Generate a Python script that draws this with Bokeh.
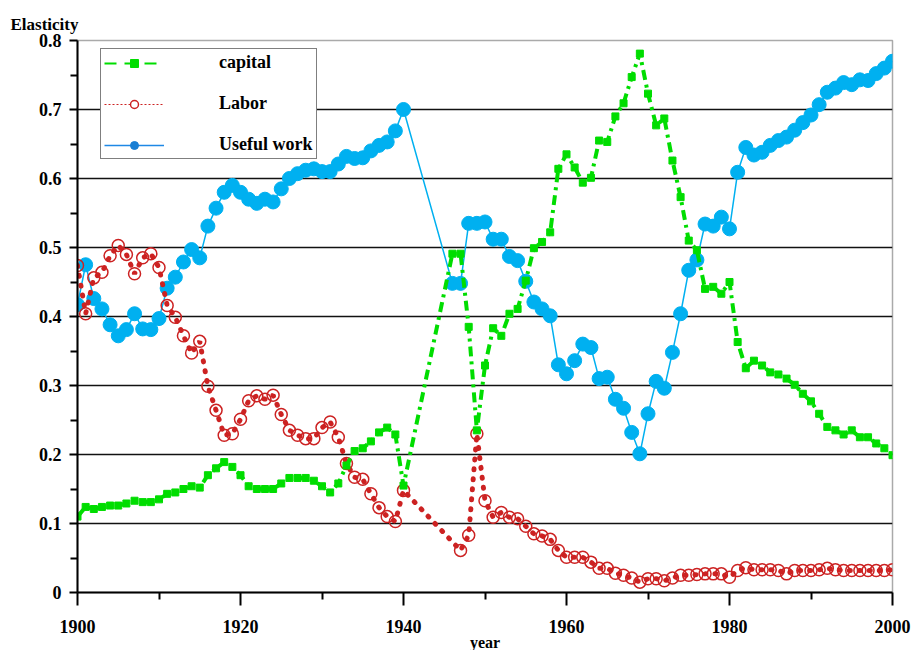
from bokeh.plotting import figure
from bokeh.models import Range1d, FixedTicker, Legend, LegendItem, Title
from bokeh.embed import file_html
from bokeh.resources import INLINE

# ---------------- data ----------------
years_main = list(range(1900, 1941)) + list(range(1946, 2001))
years_labor = list(range(1900, 1941)) + list(range(1947, 2001))

capital = [
    0.110, 0.124, 0.121, 0.124, 0.126, 0.126, 0.129, 0.133, 0.131, 0.131,
    0.135, 0.143, 0.145, 0.150, 0.154, 0.152, 0.170, 0.180, 0.189, 0.182,
    0.170, 0.154, 0.150, 0.150, 0.150, 0.158, 0.166, 0.166, 0.166, 0.162,
    0.154, 0.145, 0.158, 0.184, 0.205, 0.209, 0.219, 0.232, 0.239, 0.229,
    0.155,
    0.491, 0.491, 0.385, 0.235, 0.329, 0.383, 0.372, 0.404, 0.411, 0.452,
    0.499, 0.508, 0.522, 0.614, 0.635, 0.616, 0.594, 0.601, 0.655, 0.653,
    0.690, 0.709, 0.747, 0.781, 0.723, 0.677, 0.687, 0.626, 0.573, 0.510,
    0.496, 0.440, 0.443, 0.433, 0.450, 0.363, 0.325, 0.336, 0.329, 0.319,
    0.316, 0.310, 0.301, 0.288, 0.277, 0.259, 0.240, 0.235, 0.229, 0.235,
    0.225, 0.225, 0.216, 0.209, 0.199,
]

labor = [
    0.474, 0.404, 0.456, 0.464, 0.488, 0.503, 0.490, 0.462, 0.485, 0.491,
    0.471, 0.416, 0.399, 0.372, 0.347, 0.364, 0.299, 0.264, 0.228, 0.230,
    0.251, 0.278, 0.285, 0.280, 0.286, 0.258, 0.235, 0.228, 0.223, 0.223,
    0.239, 0.247, 0.225, 0.187, 0.167, 0.164, 0.143, 0.123, 0.110, 0.103,
    0.148,
    0.061, 0.083, 0.230, 0.133, 0.109, 0.116, 0.109, 0.107, 0.096, 0.085,
    0.082, 0.077, 0.061, 0.051, 0.051, 0.051, 0.044, 0.035, 0.035, 0.028,
    0.025, 0.021, 0.015, 0.020, 0.020, 0.017, 0.021, 0.025, 0.025, 0.026,
    0.027, 0.027, 0.027, 0.022, 0.032, 0.036, 0.033, 0.033, 0.033, 0.032,
    0.027, 0.032, 0.032, 0.032, 0.033, 0.035, 0.033, 0.032, 0.032, 0.032,
    0.032, 0.032, 0.032, 0.033,
]

useful_work = [
    0.417, 0.475, 0.426, 0.411, 0.388, 0.372, 0.381, 0.404, 0.382, 0.381,
    0.397, 0.441, 0.457, 0.479, 0.497, 0.485, 0.531, 0.557, 0.580, 0.590,
    0.580, 0.570, 0.564, 0.570, 0.566, 0.585, 0.600, 0.607, 0.612, 0.614,
    0.610, 0.610, 0.621, 0.632, 0.629, 0.630, 0.640, 0.648, 0.653, 0.669,
    0.700,
    0.448, 0.448, 0.535, 0.535, 0.537, 0.512, 0.512, 0.487, 0.481, 0.451,
    0.421, 0.411, 0.401, 0.330, 0.317, 0.336, 0.360, 0.355, 0.310, 0.312,
    0.280, 0.267, 0.232, 0.201, 0.259, 0.306, 0.296, 0.348, 0.404, 0.467,
    0.482, 0.534, 0.531, 0.544, 0.527, 0.609, 0.645, 0.634, 0.638, 0.648,
    0.655, 0.660, 0.670, 0.681, 0.692, 0.707, 0.725, 0.731, 0.739, 0.736,
    0.743, 0.742, 0.752, 0.760, 0.770,
]

x_ticks = [1900, 1920, 1940, 1960, 1980, 2000]
x_minor = [1910, 1930, 1950, 1970, 1990]
y_ticks = [0, 0.1, 0.2, 0.3, 0.4, 0.5, 0.6, 0.7, 0.8]
y_minor = [0.05, 0.15, 0.25, 0.35, 0.45, 0.55, 0.65, 0.75]

GREEN = "#00DD00"
RED = "#CC2222"
BLUE = "#00B0F0"
FONT = "Liberation Serif"

# ---------------- figure ----------------
p = figure(width=912, height=650, x_range=Range1d(1900, 2000), y_range=Range1d(0, 0.8),
           output_backend="svg", toolbar_location=None,
           min_border_left=77, min_border_right=20, min_border_top=40, min_border_bottom=58)
p.background_fill_color = "white"
p.border_fill_color = "white"
p.outline_line_color = "#aaaaaa"
p.outline_line_width = 1.5

p.xgrid.visible = False
p.ygrid.grid_line_color = "#111111"
p.ygrid.grid_line_width = 1.6

for ax in (p.xaxis[0], p.yaxis[0]):
    ax.axis_line_color = "black"
    ax.axis_line_width = 2
    ax.major_tick_line_color = "black"
    ax.major_tick_line_width = 2
    ax.minor_tick_line_color = "black"
    ax.minor_tick_line_width = 2
    ax.major_tick_in = 0
    ax.minor_tick_in = 0
    ax.major_label_text_font = FONT
    ax.major_label_text_font_style = "bold"
    ax.major_label_text_font_size = "18px"
    ax.major_label_text_color = "black"

p.xaxis.ticker = FixedTicker(ticks=x_ticks, minor_ticks=x_minor)
p.xaxis.major_tick_out = 13
p.xaxis.minor_tick_out = 7
p.xaxis.major_label_standoff = 14

p.yaxis.ticker = FixedTicker(ticks=y_ticks, minor_ticks=y_minor)
p.yaxis.major_tick_out = 8
p.yaxis.minor_tick_out = 7
p.yaxis.major_label_standoff = 8
p.yaxis.major_label_overrides = {0: "0"}

# ---------------- series ----------------
p.line(years_main, useful_work, line_color=BLUE, line_width=1.5)
p.scatter(years_main, useful_work, marker="circle", size=14, fill_color=BLUE, line_color=BLUE)

p.line(years_labor, labor, line_color=RED, line_width=5, line_dash="1 9", line_cap="round")
p.scatter(years_labor, labor, marker="circle", size=12, fill_color=None, line_color=RED, line_width=1.5)

p.line(years_main, capital, line_color=GREEN, line_width=4, line_dash="10 5 3 5")
p.scatter(years_main, capital, marker="square", size=7, fill_color=GREEN, line_color=GREEN)

# ---------------- legend (off-range placeholder renderers only for key glyphs) ----------------
key_x = [1800]
key_y = [-1]
lg_c1 = p.line(key_x, key_y, line_color=GREEN, line_width=2, line_dash="12 8")
lg_c2 = p.scatter(key_x, key_y, marker="square", size=8, fill_color=GREEN, line_color=GREEN)
lg_l1 = p.line(key_x, key_y, line_color=RED, line_width=1, line_dash="2 2")
lg_l2 = p.scatter(key_x, key_y, marker="circle", size=13, fill_color="white", line_color=RED, line_width=1.5)
lg_u1 = p.line(key_x, key_y, line_color="#1E88E5", line_width=1.5)
lg_u2 = p.scatter(key_x, key_y, marker="circle", size=14, fill_color="#1A7FD4", line_color="#1A7FD4")

legend = Legend(items=[
    LegendItem(label="capital", renderers=[lg_c1, lg_c2]),
    LegendItem(label="Labor", renderers=[lg_l1, lg_l2]),
    LegendItem(label="Useful work", renderers=[lg_u1, lg_u2]),
], location=(23, 433))
legend.border_line_color = "black"
legend.border_line_width = 1.5
legend.background_fill_color = "white"
legend.background_fill_alpha = 1
legend.label_text_font = FONT
legend.label_text_font_style = "bold"
legend.label_text_font_size = "18px"
legend.label_text_color = "black"
legend.glyph_width = 60
legend.glyph_height = 20
legend.label_height = 20
legend.spacing = 20
legend.padding = 3
legend.margin = 0
legend.label_standoff = 55
p.add_layout(legend, "center")

# ---------------- texts ----------------
t_top = Title(text="Elasticity", align="left", offset=-67, standoff=14,
              text_font=FONT, text_font_style="bold", text_font_size="17px", text_color="black")
p.add_layout(t_top, "above")
t_bottom = Title(text="year", align="center", standoff=-7,
                 text_font=FONT, text_font_style="bold", text_font_size="16px", text_color="black")
p.add_layout(t_bottom, "below")

open("out.html", "w").write(file_html(p, INLINE))
